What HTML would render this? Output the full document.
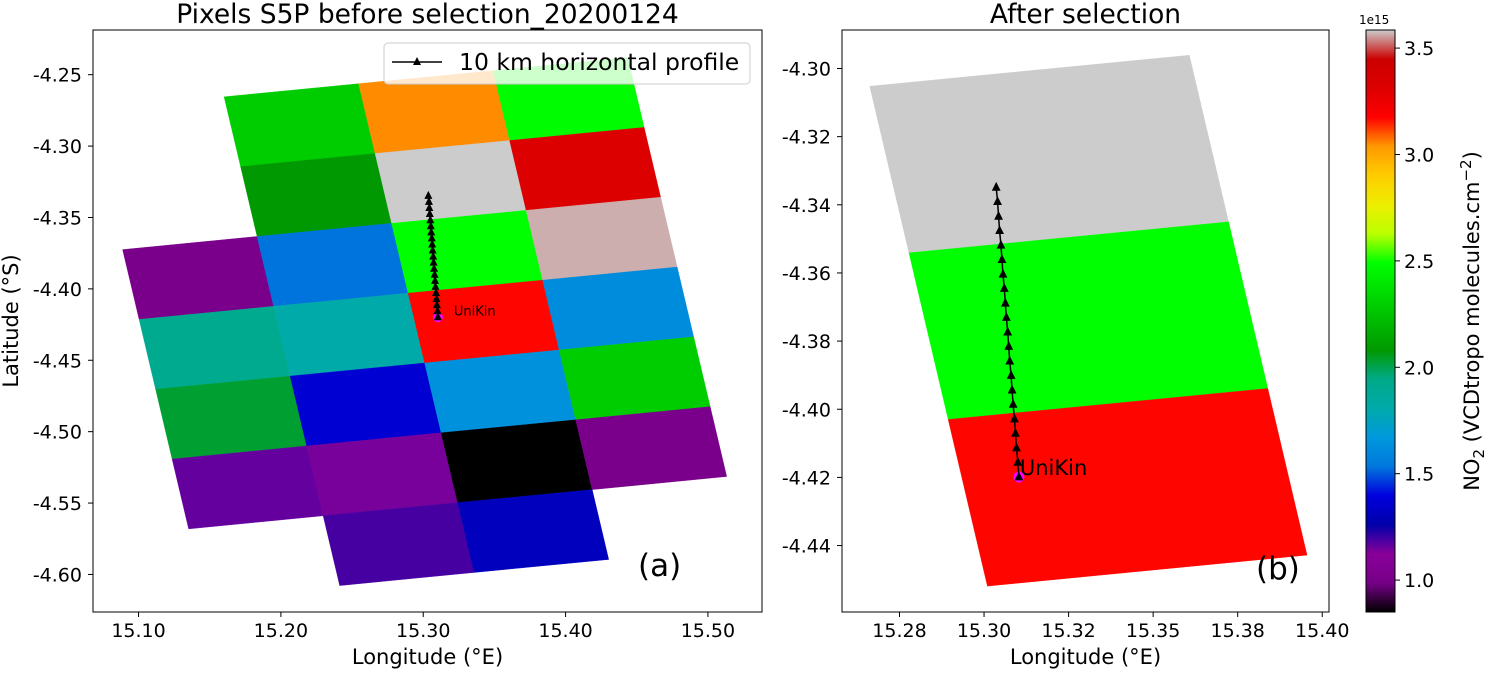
<!DOCTYPE html>
<html><head><meta charset="utf-8">
<style>
html,body{margin:0;padding:0;background:#fff;}
svg text{font-family:"DejaVu Sans","Liberation Sans",sans-serif;fill:#000;}
</style></head>
<body>
<svg id="fig" width="1485" height="670" xmlns="http://www.w3.org/2000/svg"></svg>
<script>
// ---- data ----
const gridLon = [
 [15.0656,15.1601,15.2546,15.3491,15.4436],
 [15.0772,15.1717,15.2662,15.3607,15.4552],
 [15.0888,15.1833,15.2778,15.3723,15.4668],
 [15.1004,15.1949,15.2894,15.3839,15.4784],
 [15.1120,15.2065,15.3010,15.3955,15.4900],
 [15.1236,15.2181,15.3126,15.4071,15.5016],
 [15.1352,15.2297,15.3242,15.4187,15.5132],
 [15.1468,15.2413,15.3358,15.4303,15.5248]];
const gridLat = [
 [-4.2747,-4.2655,-4.2563,-4.2472,-4.2380],
 [-4.3236,-4.3144,-4.3052,-4.2961,-4.2869],
 [-4.3725,-4.3633,-4.3541,-4.3450,-4.3358],
 [-4.4214,-4.4122,-4.4030,-4.3939,-4.3847],
 [-4.4703,-4.4611,-4.4519,-4.4428,-4.4336],
 [-4.5192,-4.5100,-4.5008,-4.4917,-4.4825],
 [-4.5681,-4.5589,-4.5497,-4.5406,-4.5314],
 [-4.6170,-4.6078,-4.5986,-4.5895,-4.5803]];
const no2Values = [
 [null,2.29,3.05,2.48,null],
 [null,2.08,3.60,3.31,null],
 [1.01,1.53,2.49,3.565,null],
 [1.92,1.81,3.17,1.62,null],
 [2.03,1.37,1.64,2.29,null],
 [1.16,1.14,0.85,1.01,null],
 [null,1.19,1.31,null,null]];
const selectedCells = [[1,2],[2,2],[3,2]];
const profLat = [-4.4199,-4.4156,-4.4114,-4.4071,-4.4029,-4.3986,-4.3944,-4.3901,-4.3859,-4.3816,-4.3774,-4.3731,-4.3689,-4.3646,-4.3604,-4.3561,-4.3519,-4.3476,-4.3434,-4.3391,-4.3349];
const profLon = [15.3103,15.3100,15.3096,15.3093,15.3090,15.3086,15.3083,15.3080,15.3076,15.3073,15.3070,15.3066,15.3063,15.3060,15.3056,15.3053,15.3050,15.3046,15.3043,15.3040,15.3036];
const siteLon = 15.3103, siteLat = -4.4199;
const leftXTicks = [15.10,15.20,15.30,15.40,15.50];
const leftXLabels = ["15.10","15.20","15.30","15.40","15.50"];
const leftYTicks = [-4.25,-4.30,-4.35,-4.40,-4.45,-4.50,-4.55,-4.60];
const leftYLabels = ["-4.25","-4.30","-4.35","-4.40","-4.45","-4.50","-4.55","-4.60"];
const rightXTicks = [15.275,15.300,15.325,15.350,15.375,15.400];
const rightXLabels = ["15.28","15.30","15.32","15.35","15.38","15.40"];
const rightYTicks = [-4.30,-4.32,-4.34,-4.36,-4.38,-4.40,-4.42,-4.44];
const rightYLabels = ["-4.30","-4.32","-4.34","-4.36","-4.38","-4.40","-4.42","-4.44"];
const cbTicks = [1.0,1.5,2.0,2.5,3.0,3.5];
const cbLabels = ["1.0","1.5","2.0","2.5","3.0","3.5"];
const vmin = 0.85, vmax = 3.585;

const cmR=[0,.4667,.5333,0,0,0,0,0,0,0,0,0,0,.7333,.9333,1,1,1,.8667,.8,.8];
const cmG=[0,0,0,0,0,.4667,.6,.6667,.6667,.6,.7333,.8667,1,1,.9333,.8,.6,0,0,0,.8];
const cmB=[0,.5333,.6,.6667,.8667,.8667,.8667,.6667,.5333,0,0,0,0,0,0,0,0,0,0,0,.8];
function cmap(t){t=Math.max(0,Math.min(1,t));const f=t*20,i=Math.min(19,Math.floor(f)),u=f-i;
 const c=a=>Math.round(255*(a[i]+(a[i+1]-a[i])*u));return `rgb(${c(cmR)},${c(cmG)},${c(cmB)})`;}
function colorOf(v){return cmap((v-vmin)/(vmax-vmin));}

const NS="http://www.w3.org/2000/svg";const svg=document.getElementById('fig');
function el(tag,attrs,parent,txt){const e=document.createElementNS(NS,tag);for(const k in attrs)e.setAttribute(k,attrs[k]);if(txt!==undefined)e.textContent=txt;(parent||svg).appendChild(e);return e;}

function makeAxes(name,px0,px1,py0,py1,lon0,lon1,lat0,lat1){
 const g=el('g',{});
 
 
 const sx=v=>px0+(v-lon0)/(lon1-lon0)*(px1-px0);
 const sy=v=>py0+(lat0-v)/(lat0-lat1)*(py1-py0);
 return {g,sx,sy,px0,px1,py0,py1};
}
function drawCell(ax,r,c,name){
 const v=no2Values[r][c];if(v===null)return;
 const pts=[[r,c],[r,c+1],[r+1,c+1],[r+1,c]].map(([a,b])=>ax.sx(gridLon[a][b]).toFixed(2)+','+ax.sy(gridLat[a][b]).toFixed(2)).join(' ');
 const p=el('polygon',{points:pts,fill:colorOf(v),stroke:colorOf(v),'stroke-width':0.4},ax.g);
 
 
}
function drawProfile(ax,size){
 const d=profLon.map((x,i)=>(i?'L':'M')+ax.sx(x).toFixed(2)+' '+ax.sy(profLat[i]).toFixed(2)).join(' ');
 const c=el('circle',{cx:ax.sx(siteLon),cy:ax.sy(siteLat),r:size*1.0,fill:'#ff00ff'},ax.g);
 
 
 const l=el('path',{d:d,stroke:'#000','stroke-width':1.5,fill:'none'},ax.g);
 
 
 profLon.forEach((x,i)=>{const X=ax.sx(x),Y=ax.sy(profLat[i]);
  const t=el('polygon',{points:`${X},${Y-size} ${X-size*0.8},${Y+size*0.6} ${X+size*0.8},${Y+size*0.6}`,fill:'#000'},ax.g);
  
  });
}
function drawFrame(ax,xt,xl,yt,yl,xlab,title){
 const f=el('rect',{x:ax.px0,y:ax.py0,width:ax.px1-ax.px0,height:ax.py1-ax.py0,fill:'none',stroke:'#000','stroke-width':1},ax.g);
 
 
 xt.forEach((v,i)=>{const X=ax.sx(v);el('line',{x1:X,x2:X,y1:ax.py1,y2:ax.py1+5,stroke:'#000'},ax.g);
  const t=el('text',{x:X,y:ax.py1+25,'text-anchor':'middle','font-size':19},ax.g,xl[i]);
  
  });
 yt.forEach((v,i)=>{const Y=ax.sy(v);el('line',{x1:ax.px0-5,x2:ax.px0,y1:Y,y2:Y,stroke:'#000'},ax.g);
  const t=el('text',{x:ax.px0-11,y:Y+7,'text-anchor':'end','font-size':19},ax.g,yl[i]);
  
  });
 const xa=el('text',{x:(ax.px0+ax.px1)/2,y:664,'text-anchor':'middle','font-size':21},ax.g,xlab);
 
 
 const ti=el('text',{x:(ax.px0+ax.px1)/2,y:23,'text-anchor':'middle','font-size':26.5},ax.g,title);
 
 
}

const L=makeAxes('left-map-axes',93,762,30,612,15.068,15.538,-4.2187,-4.6263);
no2Values.forEach((row,r)=>row.forEach((v,c)=>drawCell(L,r,c,'pixel-cell')));
drawProfile(L,5);
const lk=el('text',{x:L.sx(siteLon)+16,y:L.sy(siteLat)-2,'font-size':13},L.g,'UniKin');


const lg=el('g',{},L.g);


el('rect',{x:384,y:43,width:366,height:41,rx:4,fill:'rgba(255,255,255,0.8)',stroke:'#ccc'},lg);
el('line',{x1:392,x2:442,y1:62,y2:62,stroke:'#000','stroke-width':1.5},lg);
el('polygon',{points:'417,57 413,65 421,65',fill:'#000'},lg);
const lt=el('text',{x:459,y:70,'font-size':23.5},lg,'10 km horizontal profile');


const pa=el('text',{x:638,y:576,'font-size':31},L.g,'(a)');


drawFrame(L,leftXTicks,leftXLabels,leftYTicks,leftYLabels,'Longitude (°E)','Pixels S5P before selection_20200124');
const ya=el('text',{x:0,y:0,'text-anchor':'middle','font-size':21,transform:'translate(18,321) rotate(-90)'},svg,'Latitude (°S)');



const R=makeAxes('right-map-axes',842,1329,30,612,15.258,15.402,-4.2887,-4.4595);
selectedCells.forEach(([r,c])=>drawCell(R,r,c,'selected-pixel-cell'));
drawProfile(R,5.5);
const rk=el('text',{x:R.sx(siteLon)+1,y:R.sy(siteLat)-2,'font-size':21},R.g,'UniKin');


const pb=el('text',{x:1256,y:579,'font-size':31},R.g,'(b)');


drawFrame(R,rightXTicks,rightXLabels,rightYTicks,rightYLabels,'Longitude (°E)','After selection');

const cb=el('g',{});


const defs=el('defs',{},svg);const gr=el('linearGradient',{id:'cbg',x1:0,y1:1,x2:0,y2:0},defs);
for(let k=0;k<=100;k++)el('stop',{offset:k/100,'stop-color':cmap(k/100)},gr);
el('rect',{x:1366,y:30,width:29,height:582,fill:'url(#cbg)',stroke:'#000'},cb);
const cy=v=>612-(v-vmin)/(vmax-vmin)*582;
cbTicks.forEach((v,i)=>{el('line',{x1:1395,x2:1400,y1:cy(v),y2:cy(v),stroke:'#000'},cb);
 const t=el('text',{x:1404,y:cy(v)+7,'font-size':19},cb,cbLabels[i]);
 
 });
const ex=el('text',{x:1359,y:24,'font-size':12},cb,'1e15');


const cl=el('text',{x:0,y:0,'text-anchor':'middle','font-size':21,transform:'translate(1479,321) rotate(-90)'},cb);


el('tspan',{},cl,'NO');el('tspan',{'font-size':15,dy:5},cl,'2');el('tspan',{dy:-5},cl,' (VCDtropo molecules.cm');el('tspan',{'font-size':15,dy:-8},cl,'−2');el('tspan',{dy:8},cl,')');
</script>
</body></html>
